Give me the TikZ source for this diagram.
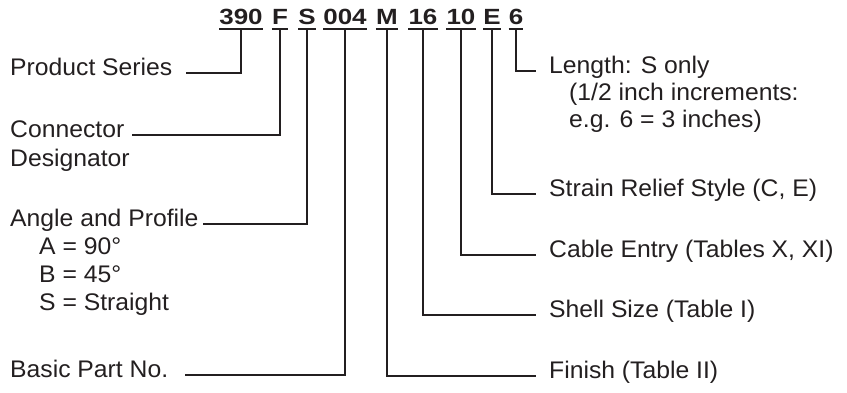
\documentclass[tikz,border=0pt]{standalone}
\usepackage{fontspec}
\setmainfont{Liberation Sans}[FakeStretch=1.03]
\newfontfamily\codefont{Liberation Sans}[FakeStretch=1.18]
\definecolor{ink}{RGB}{35,31,32}
\begin{document}
\begin{tikzpicture}[x=1pt,y=-1pt,
  lab/.style={anchor=mid west, inner sep=0pt, text=ink, font=\fontsize{24}{28}\selectfont},
  code/.style={anchor=base, inner xsep=0pt, inner ysep=5pt, text=ink, font=\codefont\bfseries\fontsize{22}{26}\selectfont},
  conn/.style={draw=ink, line width=2pt},
]
\useasboundingbox (0,0) rectangle (847,392);
% part number segments
\node[code] (c390) at (241,24) {390};
\node[code] (cF)   at (280,24) {F};
\node[code] (cS)   at (307,24) {S};
\node[code] (c004) at (345,24) {004};
\node[code] (cM)   at (387,24) {M};
\node[code] (c16)  at (423,24) {16};
\node[code] (c10)  at (461,24) {10};
\node[code] (cE)   at (492,24) {E};
\node[code] (c6)   at (516,24) {6};
\foreach \n in {c390,cF,cS,c004,cM,c16,c10,cE,c6}
  \draw[conn] (\n.south west) -- (\n.south east);
% left labels
\node[lab] (ps)  at (10,73)  {Product Series};
\node[lab] (cd)  at (10,135) {Connector};
\node[lab] (cd2) at (10,164) {Designator};
\node[lab] (ap)  at (10,224) {Angle and Profile};
\node[lab] (apa) at (39,252) {A = 90°};
\node[lab] (apb) at (39,280) {B = 45°};
\node[lab] (aps) at (39,308) {S = Straight};
\node[lab] (bp)  at (10,375) {Basic Part No.};
% right labels
\node[lab] (len)  at (549,71)  {Length: S only};
\node[lab] (len2) at (569,98)  {(1/2 inch increments:};
\node[lab] (len3) at (569,125) {e.g. 6 = 3 inches)};
\node[lab] (sr)   at (549,194) {Strain Relief Style (C, E)};
\node[lab] (ce)   at (549,255) {Cable Entry (Tables X, XI)};
\node[lab] (ss)   at (549,315) {Shell Size (Table I)};
\node[lab] (fi)   at (549,376) {Finish (Table II)};
% connectors
\draw[conn, shorten >=13pt] (c390.south) |- (ps.mid east);
\draw[conn, shorten >=8pt]  (cF.south)   |- (cd.mid east);
\draw[conn, shorten >=4pt]  (cS.south)   |- (ap.mid east);
\draw[conn, shorten >=17pt] (c004.south) |- (bp.mid east);
\draw[conn, shorten >=13pt] (cM.south)   |- (fi.mid west);
\draw[conn, shorten >=13pt] (c16.south)  |- (ss.mid west);
\draw[conn, shorten >=13pt] (c10.south)  |- (ce.mid west);
\draw[conn, shorten >=13pt] (cE.south)   |- (sr.mid west);
\draw[conn, shorten >=13pt] (c6.south)   |- (len.mid west);
\end{tikzpicture}
\end{document}
